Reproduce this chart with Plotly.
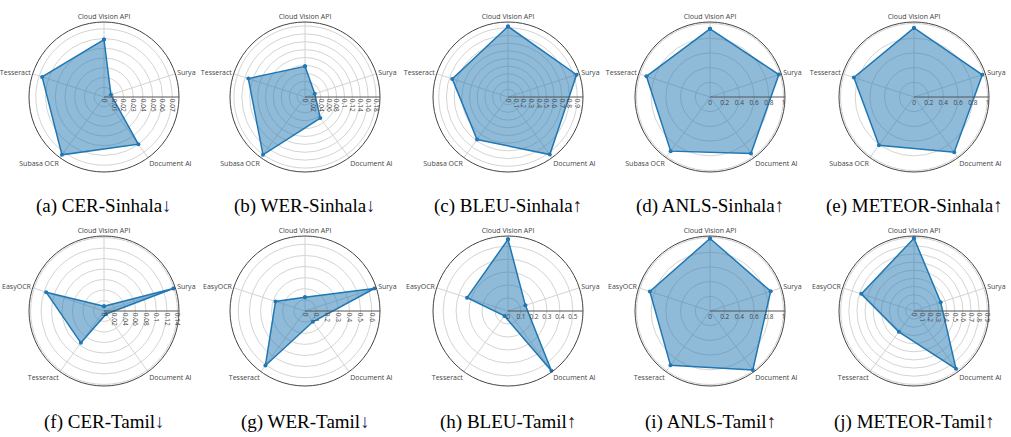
import plotly.graph_objects as go

# ---------------- data ----------------
cats_sinhala = ["Cloud Vision API", "Surya", "Document AI", "Subasa OCR", "Tesseract"]
cats_tamil = ["Cloud Vision API", "Surya", "Document AI", "Tesseract", "EasyOCR"]

cer_sinhala = [0.059, 0.0075, 0.060, 0.0734, 0.0668]
wer_sinhala = [0.0776, 0.026, 0.066, 0.181, 0.151]
bleu_sinhala = [0.917, 0.937, 0.925, 0.684, 0.762]
anls_sinhala = [0.927, 0.985, 0.948, 0.91, 0.909]
meteor_sinhala = [0.94, 0.977, 0.93, 0.81, 0.86]

cer_tamil = [0.009, 0.139, 0.007, 0.075, 0.116]
wer_tamil = [0.123, 0.656, 0.12, 0.606, 0.279]
bleu_tamil = [0.552, 0.141, 0.569, 0.047, 0.332]
anls_tamil = [0.986, 0.868, 0.99, 0.914, 0.86]
meteor_tamil = [0.893, 0.344, 0.877, 0.316, 0.68]

captions = ["(a) CER-Sinhala", "(b) WER-Sinhala", "(c) BLEU-Sinhala", "(d) ANLS-Sinhala",
            "(e) METEOR-Sinhala", "(f) CER-Tamil", "(g) WER-Tamil", "(h) BLEU-Tamil",
            "(i) ANLS-Tamil", "(j) METEOR-Tamil"]
arrows = ["↓", "↓", "↑", "↑", "↑", "↓", "↓", "↑", "↑", "↑"]

series = [cer_sinhala, wer_sinhala, bleu_sinhala, anls_sinhala, meteor_sinhala,
          cer_tamil, wer_tamil, bleu_tamil, anls_tamil, meteor_tamil]
cat_sets = [cats_sinhala] * 5 + [cats_tamil] * 5

# ---------------- layout settings ----------------
W, H = 1011, 437
radial_max = [0.077, 0.19, 0.975, 1.02, 1.02, 0.143, 0.675, 0.578, 1.02, 0.92]
dticks = [0.01, 0.02, 0.1, 0.2, 0.2, 0.02, 0.1, 0.1, 0.2, 0.1]
tickangles = [90, 90, 90, 0, 0, 90, 90, 0, 0, 90]
centers_x = [104, 305, 508, 710, 914]
centers_y = [97, 311]
caption_y = [206, 422]
R = 75

BLUE = "#1f77b4"
fig = go.Figure()
layout_polars = {}
annotations = []

for i, (vals, cats) in enumerate(zip(series, cat_sets)):
    row, col = divmod(i, 5)
    cx, cy = centers_x[col], centers_y[row]
    name = "polar" if i == 0 else f"polar{i+1}"
    fig.add_trace(go.Scatterpolar(
        r=list(vals) + [vals[0]],
        theta=list(cats) + [cats[0]],
        mode="lines+markers",
        fill="toself",
        fillcolor="rgba(31,119,180,0.5)",
        line=dict(color=BLUE, width=1.5),
        marker=dict(color=BLUE, size=4),
        subplot=name,
        showlegend=False,
    ))
    layout_polars[name] = dict(
        domain=dict(x=[(cx - R) / W, (cx + R) / W],
                    y=[1 - (cy + R) / H, 1 - (cy - R) / H]),
        bgcolor="white",
        radialaxis=dict(
            range=[0, radial_max[i]],
            dtick=dticks[i],
            tick0=0,
            angle=0,
            tickangle=tickangles[i],
            showline=True,
            linecolor="#555555",
            linewidth=1,
            gridcolor="#d4d4d4",
            gridwidth=1,
            ticks="",
            tickfont=dict(size=6.5, color="#444444"),
        ),
        angularaxis=dict(
            rotation=90,
            direction="clockwise",
            categoryorder="array",
            categoryarray=cats,
            showline=True,
            linecolor="#444444",
            linewidth=1,
            gridcolor="#d4d4d4",
            gridwidth=1,
            ticks="",
            tickfont=dict(size=7, color="#444444"),
        ),
    )
    arrow_color = "#1c1f5c" if arrows[i] == "↓" else "#3a1414"
    annotations.append(dict(
        x=cx / W, y=1 - caption_y[row] / H, xref="paper", yref="paper",
        xanchor="center", yanchor="middle", showarrow=False,
        text=f"{captions[i]}<span style='color:{arrow_color}'>{arrows[i]}</span>",
        font=dict(family="Liberation Serif, Times New Roman, serif", size=19, color="black"),
    ))

fig.update_layout(
    width=W, height=H,
    margin=dict(l=0, r=0, t=0, b=0),
    paper_bgcolor="white",
    plot_bgcolor="white",
    font=dict(family="Open Sans, sans-serif", size=7, color="#444444"),
    annotations=annotations,
    showlegend=False,
    **layout_polars,
)

fig.write_html(
    "out.html",
    config={"displayModeBar": False, "staticPlot": True},
    post_script="document.body.style.margin='0';document.body.style.padding='0';document.body.style.overflow='hidden';",
)
